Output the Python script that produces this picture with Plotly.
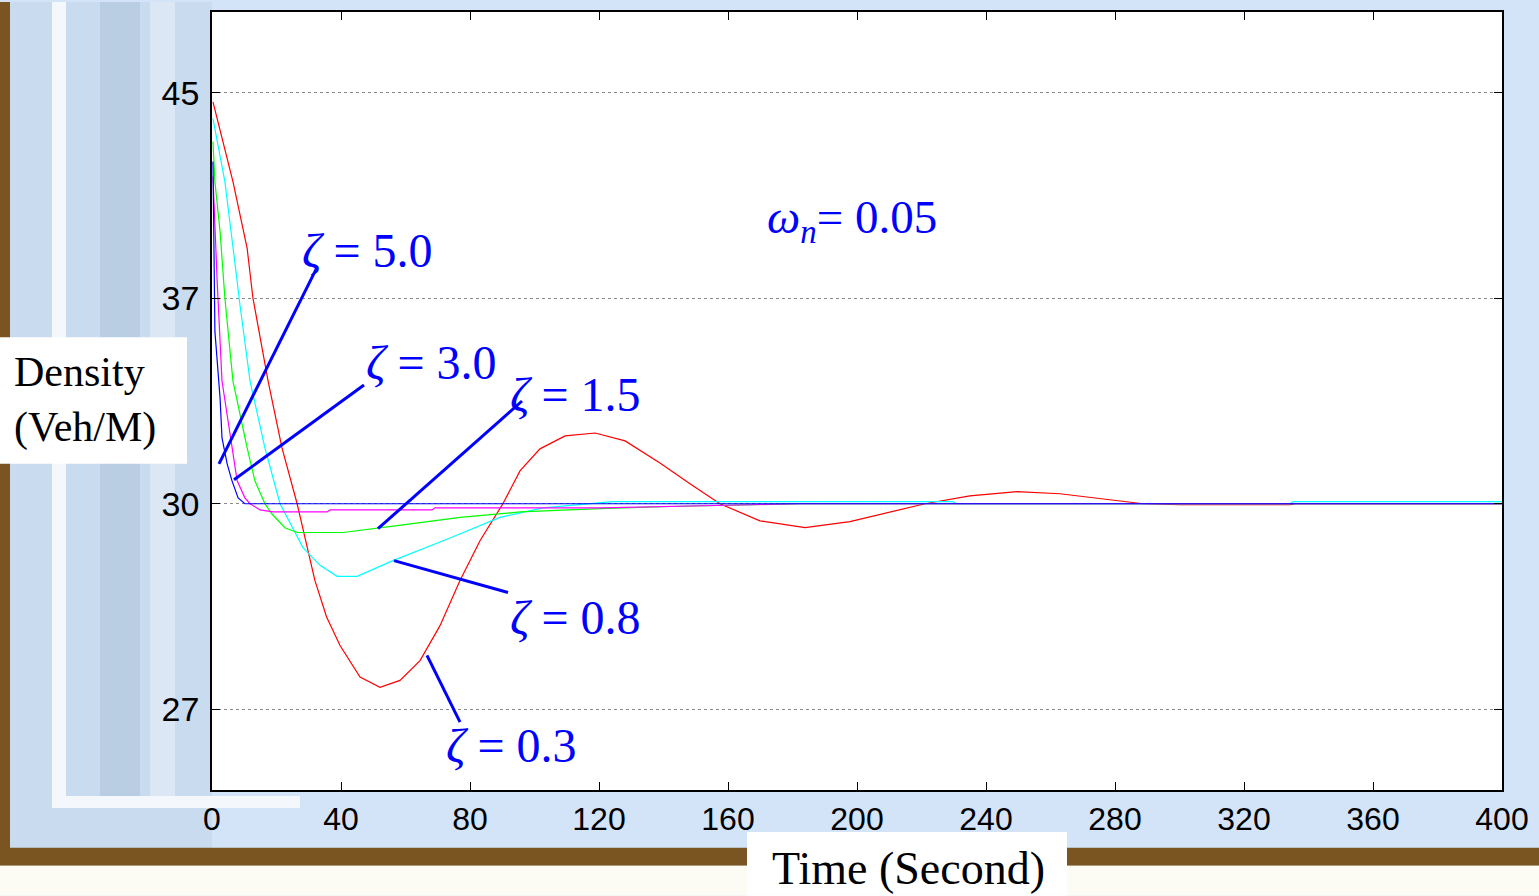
import numpy as np
import plotly.graph_objects as go

# ---------------- data (time in s, density in Veh/M) ----------------
x_ticks = [0, 40, 80, 120, 160, 200, 240, 280, 320, 360, 400]
y_tick_labels = [27, 30, 37, 45]

t_z03 = [0.3, 3.0, 6.5, 10.9, 12.7, 17.4, 21.7, 26.4, 31.9, 35.5, 39.7, 45.9, 52.1, 58.3, 64.5, 70.7, 76.9,
         83.1, 90.2, 95.5, 101.7, 109.5, 118.8, 128.1, 138.9, 148.2, 157.5, 169.9, 183.9, 197.8,
         210.2, 221.1, 235.0, 249.6, 262.9, 275.3, 288.7, 300.2, 334.3, 335.8, 400]
d_z03 = [44.65, 43.3, 41.54, 38.94, 37.0, 34.18, 31.90, 30.0, 28.88, 28.35, 27.93, 27.47, 27.32, 27.42, 27.71,
         28.22, 28.88, 29.46, 30.0, 31.12, 31.87, 32.31, 32.41, 32.14, 31.39, 30.68, 30.0, 29.75, 29.65, 29.74,
         29.88, 30.0, 30.27, 30.41, 30.34, 30.17, 30.0, 29.985, 29.985, 30.0, 30.0]

t_z08 = [0.3, 4.0, 7.8, 8.4, 11.8, 16.4, 21.1, 28.2, 33.5, 38.8, 45.0, 56.1, 73.8, 89.3, 102.6, 124.3,
         229.8, 230.7, 334.3, 335.2, 400]
d_z08 = [43.99, 41.54, 37.66, 37.0, 34.18, 31.90, 30.0, 29.36, 29.10, 28.94, 28.94, 29.17, 29.50, 29.80, 29.94,
         30.07, 30.07, 30.0, 30.0, 30.07, 30.07]

t_z15 = [0.3, 0.9, 2.5, 4.0, 6.5, 10.9, 13.3, 16.4, 18.6, 22.6, 26.4, 40.6, 57.4, 76.9, 95.5, 120.3, 142.0,
         182.3, 400]
d_z15 = [43.10, 41.54, 39.60, 37.0, 34.18, 31.90, 30.78, 30.0, 29.85, 29.65, 29.58, 29.58, 29.68, 29.80, 29.88,
         29.93, 29.96, 30.0, 30.0]

t_z30 = [0.3, 1.6, 3.1, 4.7, 6.2, 7.8, 10.2, 11.8, 14.9, 18.9, 35.7, 36.6, 68.2, 69.1, 120.3, 151.3, 182.3, 400]
d_z30 = [41.74, 37.66, 34.18, 33.06, 31.90, 30.78, 30.20, 30.0, 29.91, 29.88, 29.88, 29.91, 29.91, 29.94, 29.94,
         29.97, 30.0, 30.0]

t_z50 = [0.3, 0.5, 0.9, 2.5, 3.1, 4.7, 6.2, 8.1, 10.2, 400]
d_z50 = [42.32, 39.60, 35.88, 33.60, 32.24, 31.36, 30.78, 30.20, 30.0, 30.0]

series = [
    ("ζ = 0.3", t_z03, d_z03, "#ff0000"),
    ("ζ = 0.8", t_z08, d_z08, "#00ffff"),
    ("ζ = 1.5", t_z15, d_z15, "#00ff00"),
    ("ζ = 3.0", t_z30, d_z30, "#ff00ff"),
    ("ζ = 5.0", t_z50, d_z50, "#0000ff"),
]

# The original axis places 27, 30, 37, 45 at equal spacing (piecewise scale)
tick_pos = [0, 1, 2, 3]


def yscale(v):
    return np.interp(np.asarray(v, dtype=float), y_tick_labels, tick_pos)


fig = go.Figure()
for name, t, d, col in series:
    fig.add_trace(go.Scatter(x=t, y=yscale(d), mode="lines", name=name,
                             line=dict(color=col, width=1.2), showlegend=False))

W, H = 1539, 896
L, R, T, B = 212, 1502, 10, 790


def px(x):
    return (x - L) / (R - L)


def py(y):
    return (B - y) / (B - T)


shapes = []
# background decorations (slide background)
shapes.append(dict(type="rect", xref="paper", yref="paper", x0=px(0), x1=px(10), y0=py(850), y1=py(0),
                   fillcolor="#7a5522", line_width=0, layer="below"))
shapes.append(dict(type="rect", xref="paper", yref="paper", x0=px(10), x1=px(212), y0=py(850), y1=py(0),
                   fillcolor="#c9dbee", line_width=0, layer="below"))
for a, b, c in [(52, 66, "#f4f8fd"), (100, 140, "#b9cde3"), (150, 175, "#dbe7f4")]:
    shapes.append(dict(type="rect", xref="paper", yref="paper", x0=px(a), x1=px(b), y0=py(800), y1=py(0),
                       fillcolor=c, line_width=0, layer="below"))
shapes.append(dict(type="rect", xref="paper", yref="paper", x0=px(52), x1=px(300), y0=py(808), y1=py(796),
                   fillcolor="#f4f8fd", line_width=0, layer="below"))
shapes.append(dict(type="rect", xref="paper", yref="paper", x0=px(0), x1=px(1539), y0=py(866), y1=py(848),
                   fillcolor="#7a5522", line_width=0, layer="below"))
shapes.append(dict(type="rect", xref="paper", yref="paper", x0=px(0), x1=px(1539), y0=py(896), y1=py(866),
                   fillcolor="#fdfcf4", line_width=0, layer="below"))
# white label boxes
shapes.append(dict(type="rect", xref="paper", yref="paper", x0=px(0), x1=px(187), y0=py(463), y1=py(336),
                   fillcolor="white", line_width=0, layer="below"))
shapes.append(dict(type="rect", xref="paper", yref="paper", x0=px(747), x1=px(1067), y0=py(896), y1=py(832),
                   fillcolor="white", line_width=0, layer="below"))

# leader lines
for (x0, y0, x1, y1) in [(316, 268, 219, 463), (364, 384, 234, 479), (522, 400, 378, 528),
                         (394, 560, 508, 592), (427, 655, 460, 722)]:
    shapes.append(dict(type="line", xref="paper", yref="paper", x0=px(x0), y0=py(y0), x1=px(x1), y1=py(y1),
                       line=dict(color="#0000ff", width=3)))

serif = "Liberation Serif, Times New Roman, serif"
ann = []


def add_text(text, x, y, size, color="#0000ff", xanchor="center"):
    ann.append(dict(text=text, xref="paper", yref="paper", x=px(x), y=py(y), showarrow=False,
                    xanchor=xanchor, yanchor="middle", font=dict(family=serif, size=size, color=color)))


add_text("<i>ζ</i> = 5.0", 367, 249, 48)
add_text("<i>ζ</i> = 3.0", 431, 361, 48)
add_text("<i>ζ</i> = 1.5", 575, 393, 48)
add_text("<i>ζ</i> = 0.8", 575, 617, 48)
add_text("<i>ζ</i> = 0.3", 511, 745, 48)
add_text("<i>ω</i><sub><i>n</i></sub>= 0.05", 852, 219, 47)
add_text("Density<br>(Veh/M)", 12, 399, 42, color="black", xanchor="left")
ann[-1]["align"] = "left"
add_text("Time (Second)", 908, 869, 46, color="black")

fig.update_layout(
    width=W, height=H,
    margin=dict(l=L, r=W - R, t=T, b=H - B),
    paper_bgcolor="#d4e4f8",
    plot_bgcolor="white",
    shapes=shapes,
    annotations=ann,
    xaxis=dict(range=[0, 400], tickvals=x_ticks, ticks="inside", ticklen=8, tickcolor="black",
               showline=True, linecolor="black", linewidth=1.5, mirror="ticks", showgrid=False,
               zeroline=False, tickfont=dict(family="Liberation Sans, Arial", size=32, color="black"),
               ticklabelstandoff=0),
    yaxis=dict(range=[1 - (B - 503) / 206, 1 + (503 - T) / 206], tickvals=tick_pos,
               ticktext=[str(v) for v in y_tick_labels], ticks="inside", ticklen=8, tickcolor="black",
               showline=True, linecolor="black", linewidth=1.5, mirror="ticks", showgrid=True,
               gridcolor="#8a8a8a", griddash="dot", gridwidth=1, zeroline=False,
               tickfont=dict(family="Liberation Sans, Arial", size=34, color="black"),
               ticklabelstandoff=4),
)

fig.write_html("out.html", config={"displayModeBar": False},
               post_script="document.body.style.margin='0';document.body.style.overflow='hidden';")
